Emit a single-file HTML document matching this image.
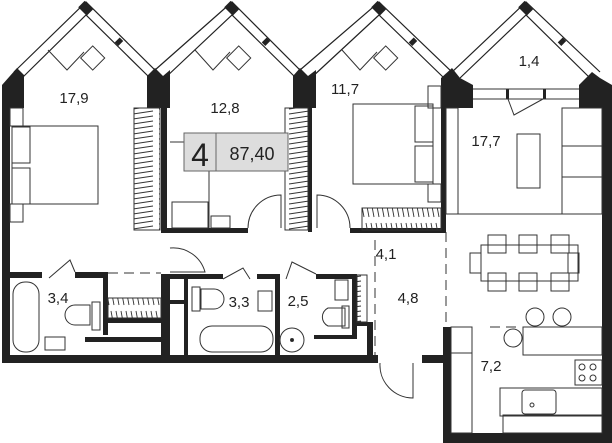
<!DOCTYPE html>
<html><head><meta charset="utf-8"><style>
html,body{margin:0;padding:0;background:#fff;}
svg{display:block;}
text{font-family:"Liberation Sans",sans-serif;fill:#222;}
</style></head><body>
<svg width="612" height="443" viewBox="0 0 612 443" xmlns="http://www.w3.org/2000/svg">
<defs>
<pattern id="hv" width="26" height="5" patternUnits="userSpaceOnUse"><line x1="3" y1="4" x2="23" y2="1" stroke="#333" stroke-width="0.9"/></pattern>
<pattern id="hh" width="5" height="22" patternUnits="userSpaceOnUse"><line x1="1" y1="3" x2="4" y2="19" stroke="#333" stroke-width="0.9"/></pattern>
</defs>
<g fill="none" stroke="#222" stroke-width="1.2">
<polyline points="14,72 86,2 155,70 232,2 300,70 379,2 452,72 526,2 600,72"/>
<polyline points="22,78 86,15 150,78"/>
<polyline points="165,78 232,15 296,78"/>
<polyline points="311,78 379,15 444,78"/>
<polyline points="460,78 526,15 592,80"/>
</g>
<g fill="#222">
<rect x="80" y="4" width="12" height="9" transform="rotate(45 86 8)"/>
<rect x="226" y="4" width="12" height="9" transform="rotate(45 232 8)"/>
<rect x="373" y="4" width="12" height="9" transform="rotate(45 379 8)"/>
<rect x="520" y="4" width="12" height="9" transform="rotate(45 526 8)"/>
<rect x="117" y="38" width="5" height="7" transform="rotate(45 119 41)"/>
<rect x="264" y="38" width="5" height="7" transform="rotate(45 266 41)"/>
<rect x="411" y="38" width="5" height="7" transform="rotate(45 413 41)"/>
<rect x="560" y="38" width="5" height="7" transform="rotate(45 562 41)"/>
<polygon points="2,85 17,68 24,75 24,108 10,108 10,363 2,363"/>
<polygon points="147,76 155,68 163,76 170,70 170,108 167,108 167,232 161,232 161,108 147,108"/>
<polygon points="293,76 300,68 308,76 316,70 316,108 312,108 312,232 308,232 308,108 293,108"/>
<polygon points="441,78 452,68 460,78 473,85 473,108 446,108 446,232 441,232"/>
<polygon points="579,85 592,72 600,78 612,85 612,443 602,443 602,108 579,108"/>
<rect x="161" y="228" width="87" height="5"/>
<rect x="350" y="228" width="96" height="5"/>
<rect x="10" y="272" width="32" height="6"/>
<rect x="75" y="272" width="33" height="6"/>
<rect x="103" y="272" width="5" height="63"/>
<rect x="108" y="318" width="53" height="5"/>
<rect x="85" y="337" width="76" height="5"/>
<rect x="161" y="274" width="9" height="81"/>
<rect x="161" y="274" width="62" height="5"/>
<rect x="170" y="300" width="14" height="4"/>
<rect x="184" y="279" width="4" height="76"/>
<rect x="257" y="274" width="23" height="5"/>
<rect x="275" y="274" width="5" height="81"/>
<rect x="316" y="274" width="41" height="5"/>
<rect x="352" y="274" width="5" height="63"/>
<rect x="314" y="335" width="43" height="4"/>
<rect x="357" y="322" width="16" height="4"/>
<rect x="367" y="322" width="6" height="33"/>
<rect x="2" y="355" width="376" height="8"/>
<rect x="422" y="355" width="21" height="8"/>
<rect x="443" y="327" width="8" height="116"/>
<rect x="443" y="433" width="169" height="10"/>
<rect x="506" y="89" width="3" height="10"/>
<rect x="543" y="89" width="3" height="10"/>
</g>
<g fill="none" stroke="#333" stroke-width="1">
<line x1="473" y1="89" x2="579" y2="89"/><line x1="473" y1="99" x2="579" y2="99"/>
<path d="M508 99 L514 115 L543 99"/>
<polyline points="48,50 67,70 84,52"/><rect x="84" y="50" width="17" height="17" transform="rotate(-45 92 58)"/>
<polyline points="195,50 213,70 230,52"/><rect x="230" y="50" width="17" height="17" transform="rotate(-45 238 58)"/>
<polyline points="342,50 360,70 377,52"/><rect x="377" y="50" width="17" height="17" transform="rotate(-45 385 58)"/>
<rect x="12" y="126" width="86" height="78"/><rect x="12" y="127" width="18" height="36"/><rect x="12" y="168" width="18" height="36"/>
<rect x="10" y="108" width="13" height="18"/><rect x="10" y="204" width="13" height="18"/>
<rect x="134" y="108" width="26" height="122" fill="url(#hv)"/>
<rect x="285" y="108" width="23" height="122" fill="url(#hv)"/>
<rect x="362" y="208" width="79" height="22" fill="url(#hh)"/>
<rect x="108" y="298" width="53" height="20" fill="url(#hh)"/>
<rect x="357" y="275" width="10" height="47" fill="url(#hv)"/>
<polyline points="170,142 184,142"/><line x1="209" y1="171" x2="209" y2="228"/>
<rect x="172" y="202" width="36" height="26"/><rect x="211" y="216" width="19" height="12"/>
<path d="M248 228 A 33 33 0 0 1 281 195 L 281 228"/>
<rect x="353" y="104" width="80" height="80"/><rect x="415" y="106" width="18" height="36"/><rect x="415" y="146" width="18" height="36"/>
<rect x="428" y="86" width="13" height="22"/><rect x="428" y="184" width="13" height="18"/>
<path d="M350 228 A 33 33 0 0 0 317 195 L317 228"/>
<rect x="446" y="108" width="12" height="106"/>
<rect x="517" y="134" width="23" height="54"/>
<rect x="562" y="108" width="40" height="106"/>
<line x1="562" y1="146" x2="602" y2="146"/><line x1="562" y1="177" x2="602" y2="177"/>
<line x1="446" y1="214" x2="602" y2="214"/>
<rect x="481" y="245" width="97" height="36"/>
<rect x="488" y="235" width="18" height="18"/><rect x="519" y="235" width="18" height="18"/><rect x="551" y="235" width="18" height="18"/>
<rect x="488" y="273" width="18" height="18"/><rect x="519" y="273" width="18" height="18"/><rect x="551" y="273" width="18" height="18"/>
<rect x="470" y="253" width="11" height="20"/><rect x="568" y="253" width="11" height="20"/>
<circle cx="535" cy="317" r="9"/><circle cx="562" cy="317" r="9"/><circle cx="513" cy="338" r="9"/>
<rect x="523" y="327" width="79" height="28"/>
<rect x="451" y="327" width="21" height="106"/><line x1="451" y1="353" x2="472" y2="353"/>
<rect x="575" y="360" width="27" height="25"/>
<circle cx="582" cy="367" r="3"/><circle cx="593" cy="367" r="3"/><circle cx="582" cy="378" r="3"/><circle cx="593" cy="378" r="3"/>
<rect x="500" y="388" width="102" height="28"/><rect x="522" y="390" width="34" height="24" rx="3"/><circle cx="532" cy="405" r="2"/>
<rect x="503" y="415" width="99" height="18"/>
<line x1="375" y1="240" x2="375" y2="355" stroke-dasharray="10,6"/>
<line x1="446" y1="232" x2="446" y2="325" stroke-dasharray="10,6"/>
<line x1="108" y1="273" x2="161" y2="273" stroke-dasharray="10,6"/>
<line x1="490" y1="327" x2="520" y2="327" stroke-dasharray="10,6"/>
<path d="M380 363 A 33 33 0 0 0 413 398 L413 363"/>
<rect x="13" y="282" width="26" height="70" rx="12"/>
<rect x="45" y="337" width="20" height="13"/>
<path d="M90 305 L75 305 A 10 10 0 0 0 75 325 L90 325 Z"/><rect x="92" y="302" width="8" height="28"/>
<path d="M49 278 L70 260 L75 272"/>
<rect x="200" y="326" width="73" height="26" rx="12"/>
<path d="M201 289 L214 289 A 10 10 0 0 1 214 309 L201 309 Z"/><rect x="192" y="287" width="8" height="24"/>
<rect x="258" y="291" width="14" height="20"/>
<path d="M223 279 L243 268 L250 279"/>
<circle cx="292" cy="340" r="12"/><circle cx="292" cy="340" r="1.5" fill="#222"/>
<rect x="335" y="280" width="13" height="20"/>
<path d="M345 308 L328 308 A 10 10 0 0 0 328 326 L345 326 Z"/><rect x="342" y="306" width="7" height="22"/>
<path d="M286 279 L292 262 L316 274"/>
<path d="M170 248 A 33 33 0 0 1 205 272 L170 272"/>
</g>
<rect x="184" y="133" width="104" height="38" fill="#ddd" stroke="#666"/>
<line x1="216" y1="133" x2="216" y2="171" stroke="#666"/>
<text x="200" y="166" font-size="32" text-anchor="middle">4</text>
<text x="252" y="160" font-size="18" text-anchor="middle">87,40</text>
<g font-size="15" text-anchor="middle">
<text x="74" y="103">17,9</text>
<text x="225" y="113">12,8</text>
<text x="345" y="94">11,7</text>
<text x="529" y="66">1,4</text>
<text x="486" y="146">17,7</text>
<text x="386" y="259">4,1</text>
<text x="58" y="303">3,4</text>
<text x="239" y="307">3,3</text>
<text x="298" y="306">2,5</text>
<text x="408" y="303">4,8</text>
<text x="491" y="371">7,2</text>
</g>
</svg>
</body></html>
